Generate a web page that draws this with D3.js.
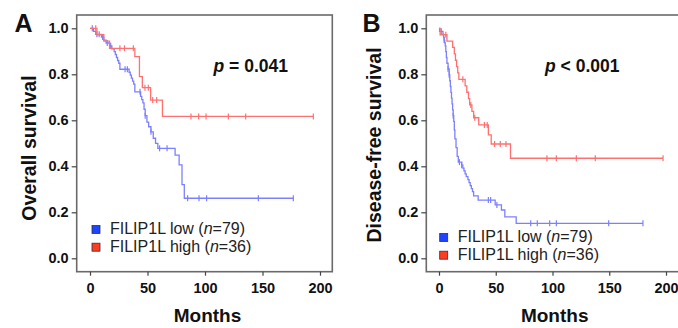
<!DOCTYPE html>
<html>
<head>
<meta charset="utf-8">
<script src="https://cdn.jsdelivr.net/npm/d3@7"></script>
<style>
  body { margin: 0; background: #fff; }
  svg { display: block; font-family: "Liberation Sans", Arial, sans-serif; }
</style>
</head>
<body>
<svg id="chart" width="678" height="328"></svg>
<script>
// Kaplan-Meier curves: [month, survival after the step]
const osLow = [[0,1.0],[3,0.987],[5,0.974],[10,0.962],[12,0.949],[14,0.936],[17,0.924],[19,0.911],[21,0.899],[22,0.886],[23,0.873],[24,0.86],[25,0.848],[26,0.822],[34,0.809],[35,0.796],[36,0.783],[37,0.77],[38,0.757],[39,0.724],[44,0.704],[45,0.69],[46,0.676],[47,0.648],[48,0.62],[49.5,0.592],[51,0.572],[53,0.55],[55,0.522],[57,0.5],[59,0.478],[74,0.449],[77.5,0.406],[80,0.32],[82,0.261]];
const osLowCensor = [2,6,8,11,15,18,30.5,32.5,43.5,48,53,60.5,67,84.9,94.8,101.4,146.4,176.8];
const osHigh = [[0,1.0],[6,0.972],[12,0.944],[17,0.913],[39,0.877],[43,0.79],[45.5,0.742],[52.7,0.688],[63,0.617]];
const osHighCensor = [5,26,30,37.7,47.8,50.7,54.5,58,87.8,94.5,100.9,120.3,135.4,194.2];

const dfsLow = [[0,1.0],[0.5,0.987],[3.5,0.975],[4,0.962],[4.5,0.949],[5,0.937],[5.5,0.924],[6,0.899],[6.5,0.873],[7,0.848],[8,0.823],[9,0.797],[9.5,0.772],[10,0.747],[10.5,0.721],[11,0.696],[11.5,0.671],[12,0.645],[12.5,0.62],[13,0.595],[13.5,0.557],[14,0.519],[15,0.481],[16,0.443],[17,0.418],[20,0.405],[21,0.392],[22,0.38],[23,0.367],[24,0.355],[25.5,0.342],[26.5,0.329],[27.5,0.316],[28.5,0.303],[29.5,0.29],[30.5,0.271],[34.5,0.253],[49.5,0.232],[55,0.21],[58,0.18],[68,0.152]];
const dfsLowCensor = [2,4.5,8,9,12.5,18,20,43.5,45.5,51,80.8,86.6,97.5,103.4,149.5,179.7];
const dfsHigh = [[0,1.0],[1,0.972],[7,0.944],[12,0.917],[13.5,0.889],[14.5,0.861],[15.5,0.833],[16.5,0.806],[17.5,0.778],[23,0.75],[24.5,0.722],[26,0.694],[27,0.667],[29,0.639],[30.5,0.611],[35,0.58],[43.5,0.537],[46,0.497],[63,0.435]];
const dfsHighCensor = [6,21,28,31.5,40,42.5,49,54,59,95.1,103.4,121,137.7,197.4];

const monthTicks = [0, 50, 100, 150, 200];
const survivalTicks = [0, 0.2, 0.4, 0.6, 0.8, 1.0];
const legendLabels = [["FILIP1L low (", "n", "=79)"], ["FILIP1L high (", "n", "=36)"]];

const svg = d3.select("#chart");

function drawPanel(p) {
  const x = d3.scaleLinear().domain([0, 200]).range(p.xRange);
  const y = d3.scaleLinear().domain([0, 1]).range([258.3, 28.3]);
  const g = svg.append("g");

  // frame
  g.append("rect")
    .attr("x", p.frame[0]).attr("y", 15)
    .attr("width", p.frame[1] - p.frame[0]).attr("height", 271.7 - 15)
    .attr("fill", "none").attr("stroke", "#6a6a6a").attr("stroke-width", 1.6);

  // axes
  const yAxis = g.append("g")
    .attr("transform", `translate(${p.frame[0]},0)`)
    .call(d3.axisLeft(y).tickValues(survivalTicks).tickFormat(d3.format(".1f")).tickSize(5).tickPadding(3));
  const xAxis = g.append("g")
    .attr("transform", "translate(0,271.7)")
    .call(d3.axisBottom(x).tickValues(monthTicks).tickSize(4).tickPadding(7));
  [xAxis, yAxis].forEach(a => {
    a.select(".domain").remove();
    a.selectAll("line").attr("stroke", "#444").attr("stroke-width", 1.2);
    a.selectAll("text").attr("fill", "#111").style("font-size", "14.5px").style("font-weight", "bold")
      .style("font-family", "'Liberation Sans', Arial, sans-serif");
  });

  // curves
  const line = d3.line().x(d => x(d[0])).y(d => y(d[1])).curve(d3.curveStepAfter);
  p.series.forEach(s => {
    const end = d3.max(s.censor);
    const pts = s.steps.concat([[end, s.steps[s.steps.length - 1][1]]]);
    g.append("path").datum(pts)
      .attr("d", line).attr("fill", "none")
      .attr("stroke", s.color).attr("stroke-width", 1.3);
    const valueAt = t => {
      let v = 1;
      s.steps.forEach(d => { if (d[0] <= t) v = d[1]; });
      return v;
    };
    g.selectAll(null).data(s.censor).join("line")
      .attr("x1", d => x(d)).attr("x2", d => x(d))
      .attr("y1", d => y(valueAt(d)) - 3).attr("y2", d => y(valueAt(d)) + 3)
      .attr("stroke", s.color).attr("stroke-width", 1.2);
  });

  // p value
  const pt = g.append("text").attr("x", p.pPos[0]).attr("y", 71.7)
    .style("font-size", "17.5px").style("font-weight", "bold").attr("fill", "#111");
  pt.append("tspan").style("font-style", "italic").text("p");
  pt.append("tspan").text(p.pText);

  // legend
  const legendColors = ["#1f44ff", "#ff3b22"];
  legendLabels.forEach((lab, i) => {
    const yy = p.legend[1] + i * 17.7;
    g.append("rect").attr("x", p.legend[0]).attr("y", yy - 8)
      .attr("width", 8).attr("height", 8)
      .attr("fill", legendColors[i]).attr("stroke", "#333").attr("stroke-width", 0.8);
    const t = g.append("text").attr("x", p.legend[0] + 18).attr("y", yy + 0.5)
      .style("font-size", "16px").attr("fill", "#222");
    t.append("tspan").text(lab[0]);
    t.append("tspan").style("font-style", "italic").text(lab[1]);
    t.append("tspan").text(lab[2]);
  });

  // titles
  g.append("text")
    .attr("transform", `translate(${p.yTitle[0]},${p.yTitle[1]}) rotate(-90)`)
    .attr("text-anchor", "middle")
    .style("font-size", "19.5px").style("font-weight", "bold").attr("fill", "#111")
    .text(p.yLabel);
  g.append("text").attr("x", p.xTitle).attr("y", 321.5).attr("text-anchor", "middle")
    .style("font-size", "19px").style("font-weight", "bold").attr("fill", "#111")
    .text("Months");
  g.append("text").attr("x", p.letter[0]).attr("y", 31.7)
    .style("font-size", "25px").style("font-weight", "bold").attr("fill", "#111")
    .text(p.letter[1]);
}

drawPanel({
  xRange: [90, 320], frame: [76.7, 332.3],
  series: [
    { steps: osLow, censor: osLowCensor, color: "#7c80ff" },
    { steps: osHigh, censor: osHighCensor, color: "#ff7070" }
  ],
  pPos: [213.5, 0], pText: " = 0.041",
  legend: [92, 233.5],
  yTitle: [36, 148], yLabel: "Overall survival",
  xTitle: 207.5, letter: [14.5, "A"]
});

drawPanel({
  xRange: [439, 666], frame: [426.3, 700],
  series: [
    { steps: dfsLow, censor: dfsLowCensor, color: "#7c80ff" },
    { steps: dfsHigh, censor: dfsHighCensor, color: "#ff7070" }
  ],
  pPos: [545, 0], pText: " < 0.001",
  legend: [439.7, 241.5],
  yTitle: [381, 145], yLabel: "Disease-free survival",
  xTitle: 554.7, letter: [362.5, "B"]
});
</script>
</body>
</html>
